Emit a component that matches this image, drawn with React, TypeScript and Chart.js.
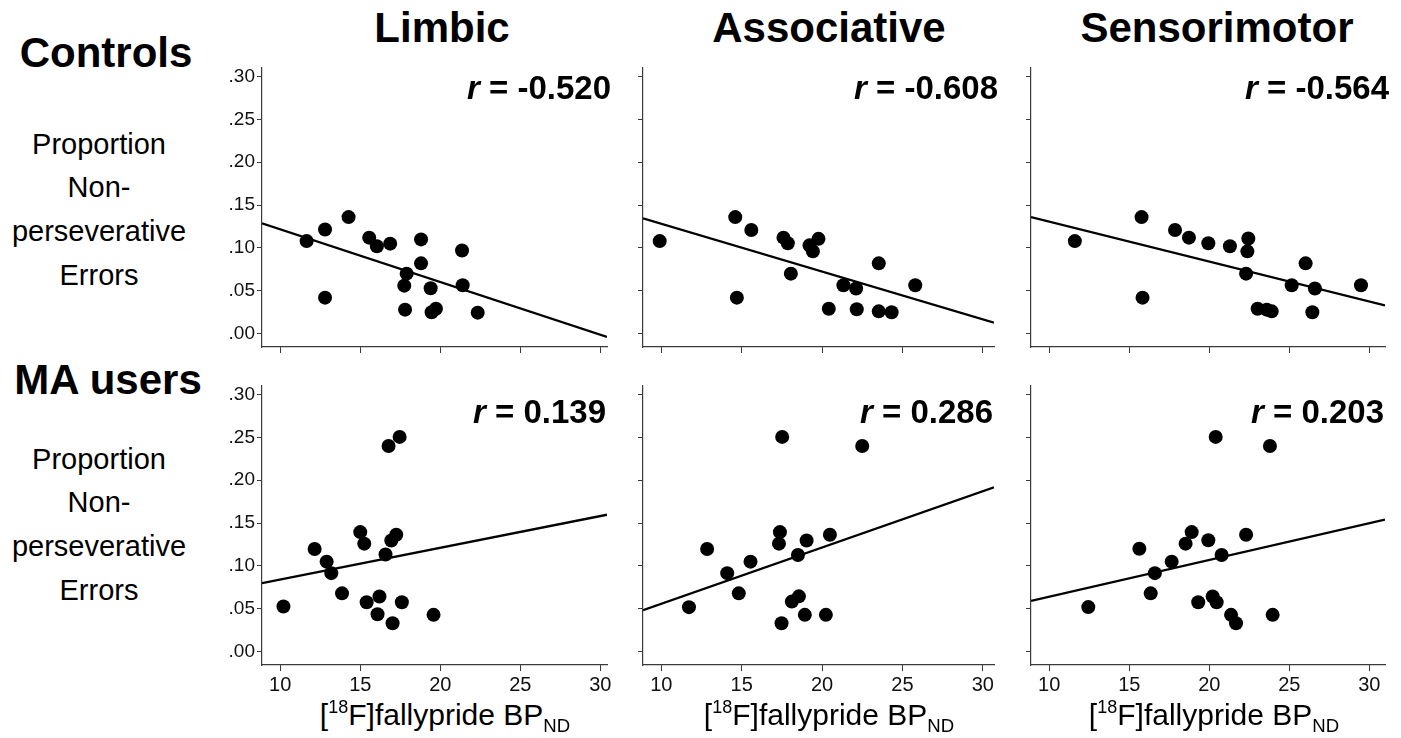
import React, { useEffect, useRef } from 'react';
import { Chart, registerables } from 'chart.js';

Chart.register(...registerables);

const FONT = '"Liberation Sans", Arial, Helvetica, sans-serif';
Chart.defaults.font.family = FONT;

// ---------- text ----------
const regionNames = ['Limbic', 'Associative', 'Sensorimotor'];
const groupNames = ['Controls', 'MA users'];
const yAxisLines = ['Proportion', 'Non-', 'perseverative', 'Errors'];
const rValues = [
  ['-0.520', '-0.608', '-0.564'],
  ['0.139', '0.286', '0.203'],
];

// ---------- scales ----------
const xStep = 5;
const yStep = 0.05;
const xMin = 8.86;
const xMaxByRegion = [30.42, 30.7, 30.98];
const yMin = -0.0156;
const yMax = 0.31;

// ---------- data: Controls ----------
const ctrlLimbicX = [11.65, 12.8, 12.8, 14.27, 15.56, 16.04, 16.87, 18.8, 18.8, 17.9, 17.75, 17.8, 19.4, 19.46, 19.73, 21.36, 21.4, 22.34];
const ctrlLimbicY = [0.108, 0.1215, 0.042, 0.136, 0.112, 0.102, 0.105, 0.110, 0.082, 0.070, 0.056, 0.028, 0.053, 0.025, 0.029, 0.097, 0.0565, 0.0245];

const ctrlAssocX = [9.9, 14.6, 14.7, 15.6, 17.6, 17.87, 18.06, 19.22, 19.43, 19.78, 20.42, 21.33, 22.12, 22.16, 23.53, 23.53, 24.33, 25.8];
const ctrlAssocY = [0.108, 0.136, 0.042, 0.121, 0.112, 0.1055, 0.070, 0.103, 0.096, 0.1106, 0.029, 0.0565, 0.0526, 0.0284, 0.082, 0.026, 0.025, 0.0565];

const ctrlSensX = [11.6, 15.77, 15.83, 17.86, 18.73, 19.94, 21.29, 22.44, 22.38, 22.3, 23.02, 23.59, 23.9, 25.15, 26.02, 26.6, 26.44, 29.48];
const ctrlSensY = [0.108, 0.136, 0.042, 0.121, 0.112, 0.1055, 0.102, 0.111, 0.096, 0.070, 0.029, 0.028, 0.026, 0.0565, 0.082, 0.0526, 0.025, 0.0565];

// ---------- data: MA users ----------
const maLimbicX = [10.2, 12.15, 12.9, 13.19, 13.86, 15.0, 15.25, 15.4, 16.08, 16.2, 16.58, 16.77, 17.46, 16.94, 17.25, 17.02, 17.6, 19.58];
const maLimbicY = [0.0526, 0.1197, 0.105, 0.0916, 0.068, 0.1395, 0.126, 0.0577, 0.0437, 0.0643, 0.1134, 0.240, 0.2506, 0.1297, 0.1364, 0.0332, 0.0577, 0.0429];

const maAssocX = [11.72, 12.85, 14.1, 14.82, 15.55, 17.38, 17.32, 17.52, 17.48, 18.12, 18.56, 18.5, 19.04, 18.93, 20.24, 20.49, 22.5];
const maAssocY = [0.0519, 0.1197, 0.0916, 0.068, 0.105, 0.1395, 0.126, 0.2506, 0.0332, 0.0584, 0.0645, 0.1127, 0.1297, 0.0429, 0.0429, 0.1364, 0.240];

const maSensX = [12.44, 15.63, 16.34, 16.6, 17.65, 18.52, 18.9, 19.31, 19.94, 20.4, 20.21, 20.46, 20.77, 21.36, 21.67, 22.3, 23.79, 23.96];
const maSensY = [0.052, 0.12, 0.068, 0.0916, 0.105, 0.126, 0.1395, 0.0577, 0.13, 0.2506, 0.0643, 0.0577, 0.1127, 0.0429, 0.0332, 0.1364, 0.240, 0.0429];

// ---------- fit lines (end points) ----------
const fitCtrlLimbicX = [8.86, 30.42];
const fitCtrlLimbicY = [0.1288, -0.0038];
const fitCtrlAssocX = [8.86, 30.7];
const fitCtrlAssocY = [0.1346, 0.0128];
const fitCtrlSensX = [8.86, 30.98];
const fitCtrlSensY = [0.136, 0.033];
const fitMaLimbicX = [8.86, 30.42];
const fitMaLimbicY = [0.080, 0.1598];
const fitMaAssocX = [8.86, 30.7];
const fitMaAssocY = [0.0484, 0.1918];
const fitMaSensX = [8.86, 30.98];
const fitMaSensY = [0.0593, 0.154];

const panelData = [
  [
    { x: ctrlLimbicX, y: ctrlLimbicY, fx: fitCtrlLimbicX, fy: fitCtrlLimbicY },
    { x: ctrlAssocX, y: ctrlAssocY, fx: fitCtrlAssocX, fy: fitCtrlAssocY },
    { x: ctrlSensX, y: ctrlSensY, fx: fitCtrlSensX, fy: fitCtrlSensY },
  ],
  [
    { x: maLimbicX, y: maLimbicY, fx: fitMaLimbicX, fy: fitMaLimbicY },
    { x: maAssocX, y: maAssocY, fx: fitMaAssocX, fy: fitMaAssocY },
    { x: maSensX, y: maSensY, fx: fitMaSensX, fy: fitMaSensY },
  ],
];

// ---------- layout ----------
const plotLeft = [262, 643, 1031];
const plotRight = [607, 994, 1385];
const plotTop = [68, 386];
const plotH = 279;
const yAxisW = 60;
const xAxisH = 32;
const padTop = 16;
const padRight = 12;
const rOffsetX = [4, -1];
const rBaseline = [31, 37];
const headCenters = [442, 829, 1217];
const titleCenters = [445, 829, 1214];

const AXIS_COLOR = '#3a3a3a';

const rPlugin = {
  id: 'rLabel',
  afterDraw(chart: any, _args: any, opts: any) {
    const { ctx, chartArea } = chart;
    if (!opts || !opts.text) return;
    const size = 33;
    ctx.save();
    ctx.fillStyle = '#000';
    ctx.textBaseline = 'alphabetic';
    ctx.textAlign = 'left';
    const fItal = `italic bold ${size}px ${FONT}`;
    const fBold = `bold ${size}px ${FONT}`;
    ctx.font = fItal;
    const wR = ctx.measureText('r').width;
    ctx.font = fBold;
    const rest = ' = ' + opts.text;
    const wRest = ctx.measureText(rest).width;
    const right = chartArea.right + opts.dx;
    const base = chartArea.top + opts.dy;
    const start = right - wR - wRest;
    ctx.font = fItal;
    ctx.fillText('r', start, base);
    ctx.font = fBold;
    ctx.fillText(rest, start + wR, base);
    ctx.restore();
  },
};

function buildConfig(row: number, col: number): any {
  const d = panelData[row][col];
  const pts = d.x.map((x, i) => ({ x, y: d.y[i] }));
  const line = d.fx.map((x, i) => ({ x, y: d.fy[i] }));
  return {
    type: 'scatter',
    data: {
      datasets: [
        {
          data: line,
          showLine: true,
          borderColor: '#000',
          borderWidth: 2.3,
          pointRadius: 0,
          pointHoverRadius: 0,
          order: 2,
        },
        {
          data: pts,
          showLine: false,
          backgroundColor: '#000',
          borderColor: '#000',
          pointBackgroundColor: '#000',
          pointBorderColor: '#000',
          pointBorderWidth: 0,
          pointRadius: 7,
          pointHoverRadius: 7,
          order: 1,
        },
      ],
    },
    options: {
      responsive: false,
      maintainAspectRatio: false,
      animation: false,
      events: [],
      layout: { padding: { top: padTop, right: padRight, left: 0, bottom: 0 } },
      plugins: {
        legend: { display: false },
        tooltip: { enabled: false },
        rLabel: { text: rValues[row][col], dx: rOffsetX[row], dy: rBaseline[row] },
      },
      scales: {
        x: {
          type: 'linear',
          min: xMin,
          max: xMaxByRegion[col],
          afterFit: (s: any) => {
            s.height = xAxisH;
          },
          ticks: {
            stepSize: xStep,
            includeBounds: false,
            display: row === 1,
            autoSkip: false,
            maxRotation: 0,
            padding: 2,
            color: '#111',
            font: { size: 20, family: FONT },
          },
          grid: {
            drawOnChartArea: false,
            drawTicks: true,
            tickLength: 6,
            color: AXIS_COLOR,
            lineWidth: 1,
          },
          border: { display: true, color: AXIS_COLOR, width: 1.2 },
        },
        y: {
          type: 'linear',
          min: yMin,
          max: yMax,
          afterFit: (s: any) => {
            s.width = yAxisW;
          },
          ticks: {
            stepSize: yStep,
            includeBounds: false,
            display: col === 0,
            padding: 2,
            color: '#111',
            font: { size: 19, family: FONT },
            callback: (v: any) => Number(v).toFixed(2).replace(/^0\./, '.').replace(/^-0\./, '-.'),
          },
          grid: {
            drawOnChartArea: false,
            drawTicks: true,
            tickLength: 5,
            color: AXIS_COLOR,
            lineWidth: 1,
          },
          border: { display: true, color: AXIS_COLOR, width: 1.2 },
        },
      },
    },
    plugins: [rPlugin],
  };
}

function Panel({ row, col }: { row: number; col: number }) {
  const ref = useRef<HTMLCanvasElement | null>(null);
  useEffect(() => {
    if (!ref.current) return;
    const chart = new Chart(ref.current, buildConfig(row, col));
    return () => chart.destroy();
  }, [row, col]);
  const w = plotRight[col] - plotLeft[col] + yAxisW + padRight;
  const h = plotH + padTop + xAxisH;
  return (
    <canvas
      ref={ref}
      width={w}
      height={h}
      style={{
        position: 'absolute',
        left: plotLeft[col] - yAxisW,
        top: plotTop[row] - padTop,
        width: w,
        height: h,
      }}
    />
  );
}

// place text so that its alphabetic baseline sits at `baseline` (line-height = font size)
function BaseText({
  cx,
  baseline,
  size,
  bold,
  children,
}: {
  cx: number;
  baseline: number;
  size: number;
  bold?: boolean;
  children: React.ReactNode;
}) {
  const top = baseline - 0.8465 * size;
  return (
    <div
      style={{
        position: 'absolute',
        left: cx - 250,
        width: 500,
        top,
        textAlign: 'center',
        fontFamily: FONT,
        fontSize: size,
        lineHeight: `${size}px`,
        fontWeight: bold ? 'bold' : 'normal',
        color: '#000',
        whiteSpace: 'nowrap',
      }}
    >
      {children}
    </div>
  );
}

export default function App() {
  const rows = [0, 1];
  const cols = [0, 1, 2];
  const groupBaselines = [68, 395];
  const groupCenters = [106, 108];
  const propFirstBaseline = [154.3, 469.3];
  const propLineGap = 43.6;
  return (
    <div
      style={{
        position: 'absolute',
        left: 0,
        top: 0,
        width: 1401,
        height: 738,
        background: '#fff',
        overflow: 'hidden',
      }}
    >
      {regionNames.map((name, c) => (
        <BaseText key={name} cx={headCenters[c]} baseline={42.7} size={42} bold>
          {name}
        </BaseText>
      ))}
      {groupNames.map((g, r) => (
        <BaseText key={g} cx={groupCenters[r]} baseline={groupBaselines[r]} size={42} bold>
          {g}
        </BaseText>
      ))}
      {rows.map((r) =>
        yAxisLines.map((t, i) => (
          <BaseText key={`${r}-${i}`} cx={99} baseline={propFirstBaseline[r] + i * propLineGap} size={29}>
            {t}
          </BaseText>
        ))
      )}
      {rows.map((r) => cols.map((c) => <Panel key={`${r}-${c}`} row={r} col={c} />))}
      {cols.map((c) => (
        <BaseText key={`t${c}`} cx={titleCenters[c]} baseline={725} size={30}>
          [<span style={{ fontSize: '0.6em', position: 'relative', top: '-0.62em' }}>18</span>F]fallypride BP
          <span style={{ fontSize: '0.62em', position: 'relative', top: '0.42em' }}>ND</span>
        </BaseText>
      ))}
    </div>
  );
}
